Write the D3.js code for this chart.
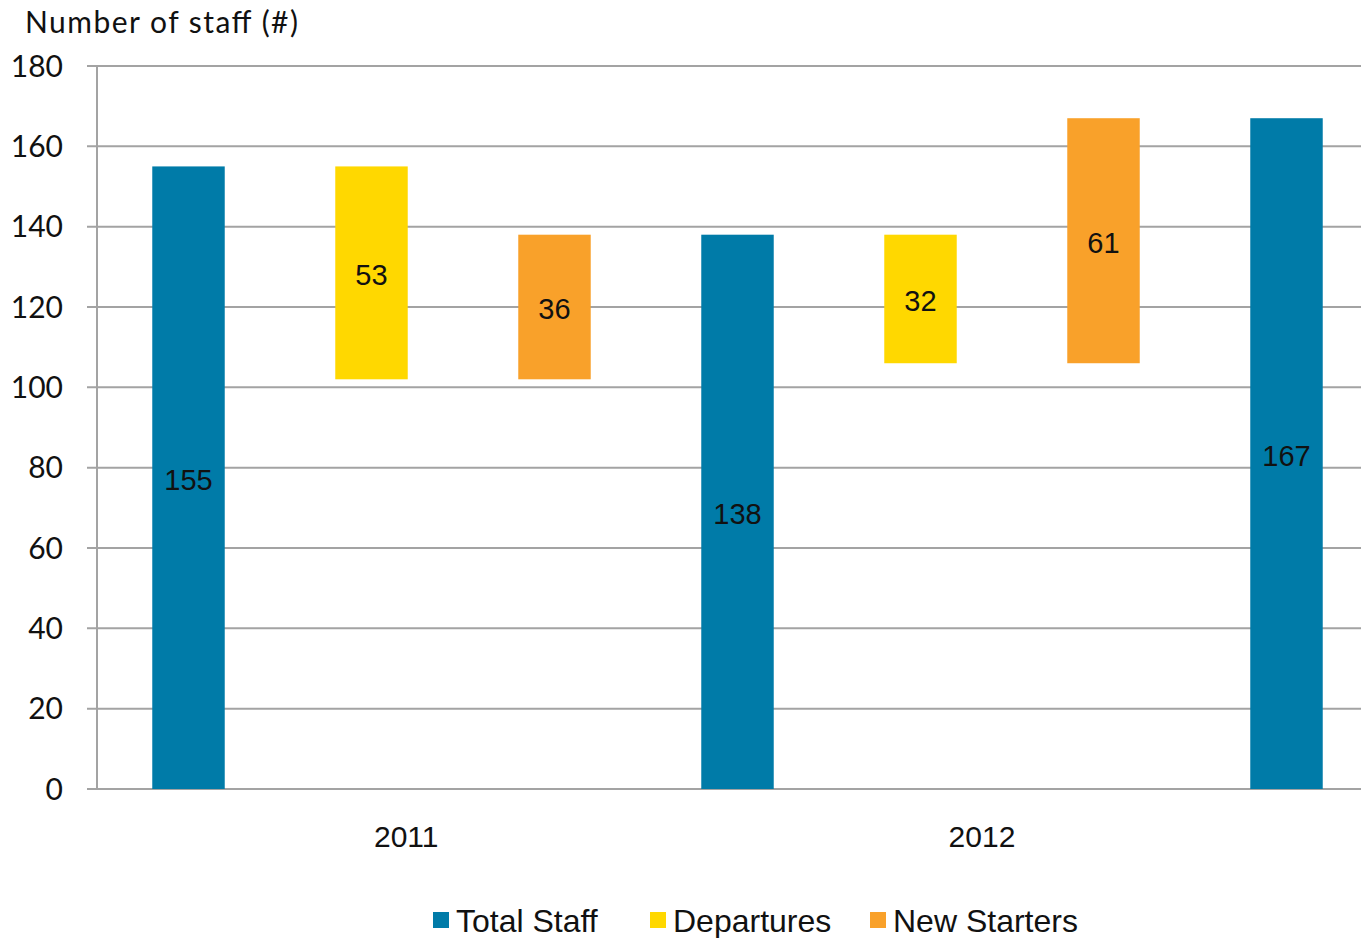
<!DOCTYPE html>
<html>
<head>
<meta charset="utf-8">
<script src="https://cdn.jsdelivr.net/npm/d3@7"></script>
<style>
  html, body { margin: 0; padding: 0; background: #fff; }
  svg { display: block; }
</style>
</head>
<body>
<script>
// Staff movement waterfall, 2011–2012
const steps = ["Total 2011 start", "Departures 2011", "New Starters 2011", "Total 2012 start", "Departures 2012", "New Starters 2012", "Total 2012 end"];
const stepSeries = ["Total Staff", "Departures", "New Starters", "Total Staff", "Departures", "New Starters", "Total Staff"];
const stepValues = [155, 53, 36, 138, 32, 61, 167];
const stepBases  = [0, 102, 102, 0, 106, 106, 0];
const years = ["2011", "2012"];
const yTicks = [0, 20, 40, 60, 80, 100, 120, 140, 160, 180];
const seriesNames = ["Total Staff", "Departures", "New Starters"];
const seriesColors = ["#007BA8", "#FFD800", "#F9A12A"];

const W = 1361, H = 938;
const plot = { left: 97, top: 66, bottom: 789, step: 183 };

const svg = d3.select("body").append("svg")
  .attr("width", W).attr("height", H);

const color = d3.scaleOrdinal().domain(seriesNames).range(seriesColors);

const y = d3.scaleLinear().domain([0, 180]).range([plot.bottom, plot.top]);

const x = d3.scaleBand()
  .domain(d3.range(steps.length))
  .range([plot.left, plot.left + plot.step * steps.length])
  .paddingInner(0.604)
  .paddingOuter(0.302);

// continuous slot scale for the year labels
const slot = d3.scaleLinear().domain([0, steps.length]).range(x.range());

const gridColor = "#A3A3A3";

// horizontal gridlines with tick stubs
svg.append("g")
  .selectAll("line")
  .data(yTicks)
  .join("line")
  .attr("x1", plot.left - 10).attr("x2", W)
  .attr("y1", d => y(d)).attr("y2", d => y(d))
  .attr("stroke", gridColor).attr("stroke-width", 2);

// y axis line
svg.append("line")
  .attr("x1", plot.left).attr("x2", plot.left)
  .attr("y1", y(180)).attr("y2", y(0))
  .attr("stroke", gridColor).attr("stroke-width", 2);

// y tick labels
svg.append("g")
  .selectAll("text")
  .data(yTicks)
  .join("text")
  .attr("x", 63).attr("y", d => y(d))
  .attr("dy", "0.36em")
  .attr("text-anchor", "end")
  .attr("font-family", "Lato, 'Noto Sans', sans-serif")
  .attr("font-size", 30)
  .attr("fill", "#111")
  .text(d => d);

// axis title
svg.append("text")
  .attr("x", 25).attr("y", 33)
  .attr("font-family", "Lato, 'Noto Sans', sans-serif")
  .attr("font-size", 30)
  .attr("textLength", 273)
  .attr("lengthAdjust", "spacing")
  .attr("fill", "#111")
  .text("Number of staff (#)");

// bars
const data = steps.map((s, i) => ({
  i, series: stepSeries[i], value: stepValues[i], base: stepBases[i]
}));

svg.append("g")
  .selectAll("rect")
  .data(data)
  .join("rect")
  .attr("x", d => x(d.i))
  .attr("width", x.bandwidth())
  .attr("y", d => y(d.base + d.value))
  .attr("height", d => y(d.base) - y(d.base + d.value))
  .attr("fill", d => color(d.series));

// value labels, centred in each bar
svg.append("g")
  .selectAll("text")
  .data(data)
  .join("text")
  .attr("x", d => x(d.i) + x.bandwidth() / 2)
  .attr("y", d => y(d.base + d.value / 2) + 2)
  .attr("dy", "0.36em")
  .attr("text-anchor", "middle")
  .attr("font-family", "'Liberation Sans', Arial, sans-serif")
  .attr("font-size", 29)
  .attr("fill", "#111")
  .text(d => d.value);

// year labels under the axis
const yearSlots = [1.69, 4.836];
svg.append("g")
  .selectAll("text")
  .data(years)
  .join("text")
  .attr("x", (d, i) => slot(yearSlots[i]))
  .attr("y", 847)
  .attr("text-anchor", "middle")
  .attr("font-family", "'Liberation Sans', Arial, sans-serif")
  .attr("font-size", 30)
  .attr("fill", "#111")
  .text(d => d);

// legend
const legendX = [433, 650, 870];
const lg = svg.append("g")
  .selectAll("g")
  .data(seriesNames)
  .join("g")
  .attr("transform", (d, i) => `translate(${legendX[i]},912)`);
lg.append("rect")
  .attr("width", 16).attr("height", 16)
  .attr("fill", d => color(d));
lg.append("text")
  .attr("x", 23).attr("y", 20)
  .attr("font-family", "'Liberation Sans', Arial, sans-serif")
  .attr("font-size", 32)
  .attr("fill", "#111")
  .text(d => d);
</script>
</body>
</html>
